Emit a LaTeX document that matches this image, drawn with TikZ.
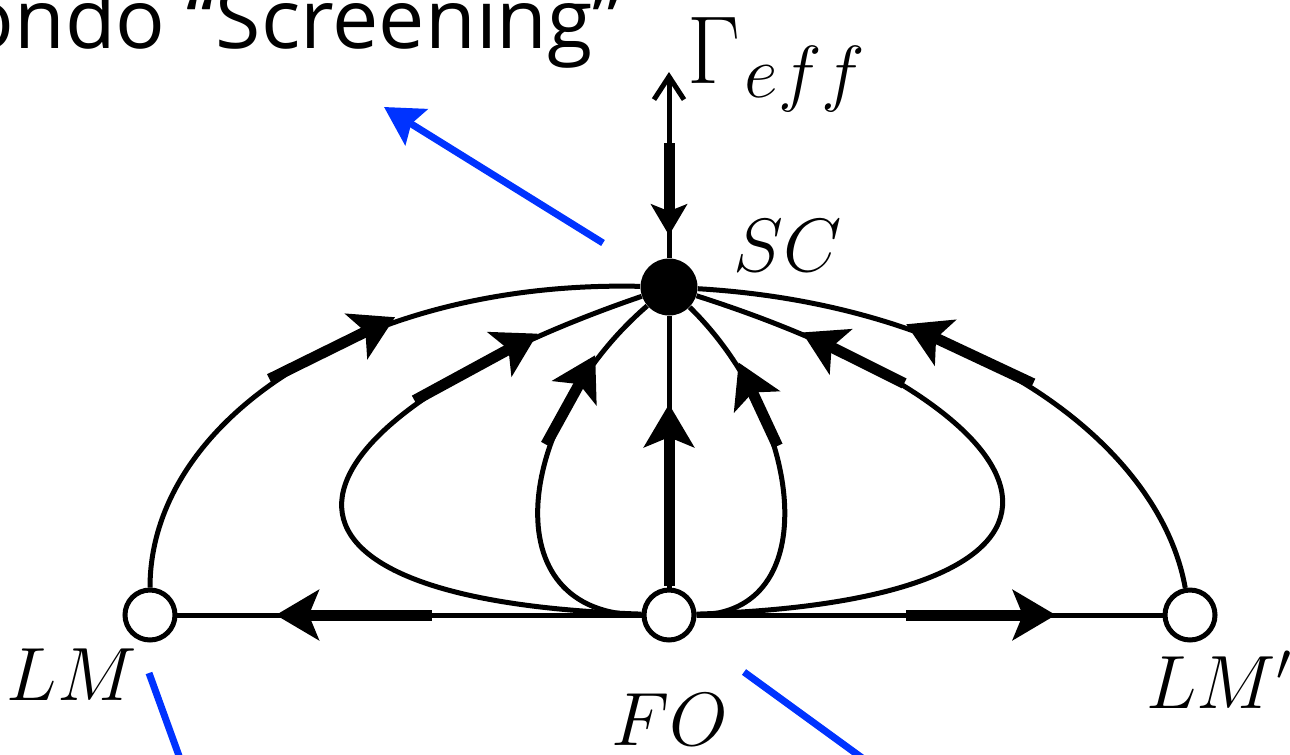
\RequirePackage{fix-cm}
\documentclass[tikz,border=0pt]{standalone}
\usepackage{graphicx}
\usepackage[no-math]{fontspec}
\newfontfamily\kondofont{Open Sans}
\usetikzlibrary{arrows.meta,decorations.markings}
\definecolor{kBlue}{HTML}{0033FF}
\tikzset{
  bigtip/.tip={Stealth[length=0.86cm,width=1.0cm,inset=0.2cm]},
  smalltip/.tip={Stealth[length=0.62cm,width=0.72cm,inset=0.14cm]},
  flow/.style={line width=0.1cm},
  fixed/.style={circle,draw,fill=white,line width=0.1cm,minimum size=1.0cm,inner sep=0pt},
  stable/.style={circle,fill=black,minimum size=1.14cm,inner sep=0pt},
  lbl/.style={font=\fontsize{43}{50}\selectfont,inner sep=0pt},
  rg/.style n args={3}{postaction={decorate,decoration={markings,mark=at position #1 with {\draw[line width=0.22cm,-{#3}] (-#2,0) -- (#2,0);}}}},
  kondo/.style={kBlue,line width=0.14cm},
}

\begin{document}
\begin{tikzpicture}[x=0.02cm,y=-0.02cm]
\clip (0,0) rectangle (1290,754);
\node[stable] (SC) at (669,287) {};
\node[fixed] (FO) at (669,615) {};
\node[fixed] (LM) at (150,615) {};
\node[fixed] (LMp) at (1190,615) {};
\coordinate (top) at (669,72);

\node[font=\kondofont\fontsize{47}{56}\selectfont,inner sep=0pt,anchor=base east] (title) at (622,48) {Kondo “Screening”};
\node[font=\fontsize{42}{50}\selectfont,inner sep=0pt,anchor=base west] (Glab) at (687,83) {\resizebox{1.06cm}{1.32cm}{$\Gamma$}\kern0.06em\raisebox{-0.19em}{$eff$}};
\node[lbl,anchor=base west] (SClab) at (733,271) {$SC$};
\node[lbl,anchor=base east] (LMlab) at (137,700) {$LM$};
\node[lbl,anchor=base west] (FOlab) at (611,745) {$FO$};
\node[lbl,anchor=base west] (LMplab) at (1146,708) {$LM'$};

% flows into SC
\draw[flow,{Straight Barb[length=0.46cm,width=0.6cm]}-,rg={0.63}{46}{smalltip}] (top) -- (SC);
\draw[flow,rg={0.34}{91}{bigtip}] (FO) -- (SC);
\draw[flow,rg={0.5}{70}{bigtip}] (LM) .. controls (150,420) and (360,280) .. (SC);
\draw[flow,rg={0.54}{70}{bigtip}] (LMp) .. controls (1160,445) and (975,305) .. (SC);
\draw[flow,rg={0.75}{70}{bigtip}] (FO) .. controls (205,600) and (280,420) .. (SC);
\draw[flow,rg={0.77}{57}{bigtip}] (FO) .. controls (1138,600) and (1070,415) .. (SC);
\draw[flow,rg={0.70}{51}{bigtip}] (FO) .. controls (490,615) and (515,420) .. (SC);
\draw[flow,rg={0.69}{46}{bigtip}] (FO) .. controls (825,615) and (805,420) .. (SC);
% flows out of FO
\draw[flow,rg={0.62}{78}{bigtip}] (FO) -- (LM);
\draw[flow,rg={0.61}{75}{bigtip}] (FO) -- (LMp);

\coordinate (kA) at (603,243); \coordinate (kB) at (384,107);
\draw[kondo,-{Stealth[length=0.76cm,width=0.84cm,inset=0.12cm]}] (kA) -- (kB);
\coordinate (kC) at (149,673); \coordinate (kD) at (195,800);
\draw[kondo] (kC) -- (kD);
\coordinate (kE) at (744,672); \coordinate (kF) at (920,800);
\draw[kondo] (kE) -- (kF);
\end{tikzpicture}
\end{document}
